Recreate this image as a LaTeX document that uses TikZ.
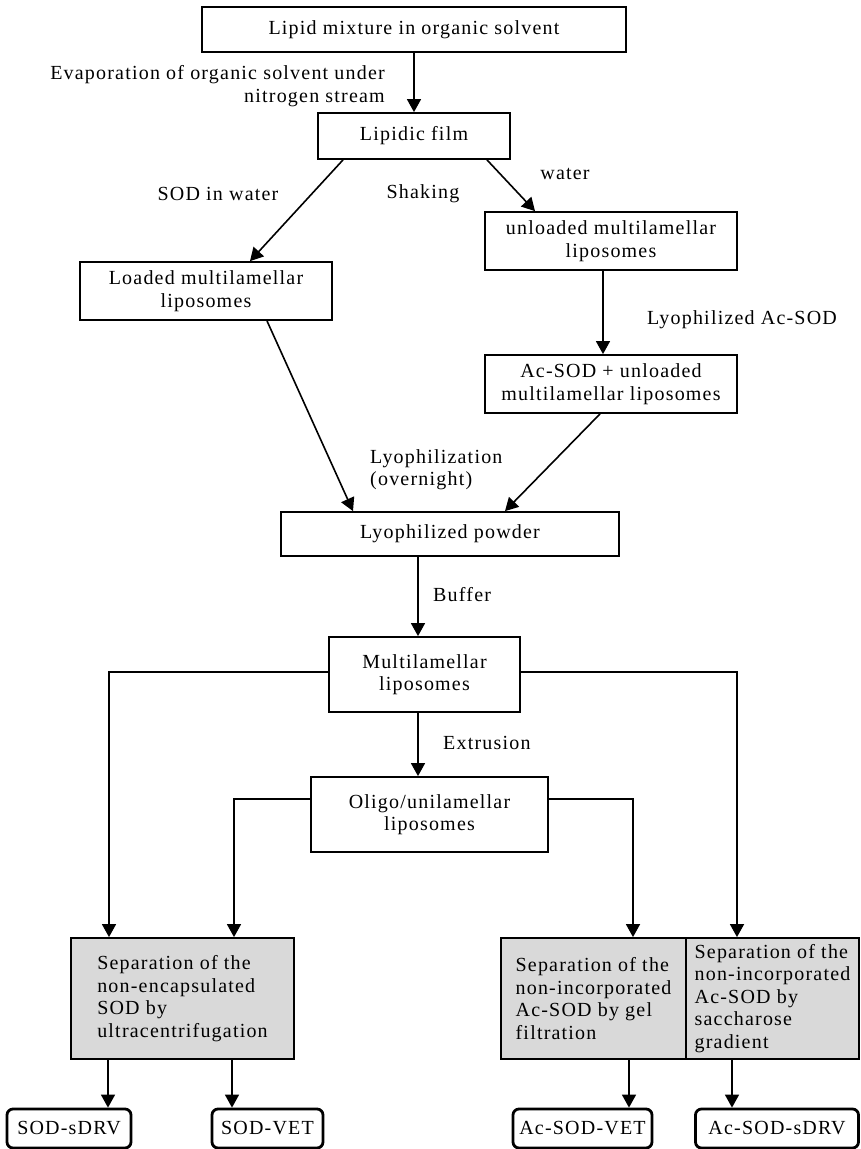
\documentclass[tikz,border=0pt]{standalone}
\usepackage{fontspec}
\setmainfont[LetterSpace=6]{Liberation Serif}
\usetikzlibrary{arrows.meta}

\tikzset{
  procbox/.style={draw, line width=1.8pt, align=center, inner sep=2pt},
  sepbox/.style={draw, line width=1.8pt, fill=gray!30, align=left, inner sep=2pt,
    minimum height=121pt},
  prodbox/.style={draw, line width=2.8pt, rounded corners=6pt, minimum height=39pt,
    inner sep=2pt},
  lbl/.style={inner sep=0pt},
  arr/.style={line width=1.6pt, -{Triangle[length=13pt,width=14pt]}}
}

\begin{document}
\begin{tikzpicture}[x=1pt,y=-1pt,font=\fontsize{20pt}{22.5pt}\selectfont]
\useasboundingbox (0,0) rectangle (861,1149);

% preparation steps
\node[procbox, minimum width=424pt, minimum height=45pt] (mix) at (414,29.5) {Lipid mixture in organic solvent};
\node[procbox, minimum width=192pt, minimum height=46pt] (film) at (414,136) {Lipidic film};
\node[procbox, minimum width=252pt, minimum height=58pt] (loaded) at (206,291) {Loaded multilamellar\\liposomes};
\node[procbox, minimum width=252pt, minimum height=58pt] (unloaded) at (611,241) {unloaded multilamellar\\liposomes};
\node[procbox, minimum width=252pt, minimum height=58pt] (acmix) at (611,384) {Ac-SOD + unloaded\\multilamellar liposomes};
\node[procbox, minimum width=338pt, minimum height=44pt] (powder) at (450,534) {Lyophilized powder};
\node[procbox, minimum width=191pt, minimum height=75pt] (multi) at (424.5,674.5) {Multilamellar\\liposomes};
\node[procbox, minimum width=237pt, minimum height=75pt] (oligo) at (429.5,814.5) {Oligo/unilamellar\\liposomes};

% separation steps
\node[sepbox, minimum width=223pt] (ucsep) at (182.5,998.5) {Separation of the\\non-encapsulated\\SOD by\\ultracentrifugation};
\node[sepbox, minimum width=185pt] (gelsep) at (593.5,998.5) {Separation of the\\non-incorporated\\Ac-SOD by gel\\filtration};
\node[sepbox, minimum width=173pt] (saccsep) at (772.5,998.5) {Separation of the\\non-incorporated\\Ac-SOD by\\saccharose\\gradient};

% final products
\node[prodbox, minimum width=124pt] (sdrv) at (69,1128.5) {SOD-sDRV};
\node[prodbox, minimum width=111pt] (vet) at (267.5,1128.5) {SOD-VET};
\node[prodbox, minimum width=139pt] (acvet) at (582.5,1128.5) {Ac-SOD-VET};
\node[prodbox, minimum width=163pt] (acsdrv) at (777,1128.5) {Ac-SOD-sDRV};

% step labels
\node[lbl, anchor=east, align=right] (evap) at (385,86) {Evaporation of organic solvent under\\nitrogen stream};
\node[lbl] (sodw) at (218,194) {SOD in water};
\node[lbl] (shake) at (423,194) {Shaking};
\node[lbl] (water) at (565,174) {water};
\node[lbl] (lyoac) at (742,320) {Lyophilized Ac-SOD};
\node[lbl, anchor=west, align=left] (lyo) at (370,469.5) {Lyophilization\\(overnight)};
\node[lbl, anchor=west] (buffer) at (433,595) {Buffer};
\node[lbl, anchor=west] (extr) at (443,743) {Extrusion};

% arrows
\draw[arr] (mix) -- (film);
\draw[arr] ([xshift=-71pt]film.south) -- ([xshift=44pt]loaded.north);
\draw[arr] ([xshift=73pt]film.south) -- ([xshift=-76pt]unloaded.north);
\draw[arr] ([xshift=-8pt]unloaded.south) -- ([xshift=-8pt]acmix.north);
\draw[arr] ([xshift=61pt]loaded.south) -- ([xshift=-97pt]powder.north);
\draw[arr] ([xshift=-11pt]acmix.south) -- ([xshift=55pt]powder.north);
\draw[arr] ([xshift=-32pt]powder.south) -- ([xshift=-6.5pt]multi.north);
\draw[arr] ([xshift=-6.5pt]multi.south) -- ([xshift=-11.5pt]oligo.north);

\draw[arr] ([yshift=2.5pt]multi.west) -| ([xshift=-73.5pt]ucsep.north);
\draw[arr] ([yshift=2.5pt]multi.east) -| ([xshift=-35.5pt]saccsep.north);
\draw[arr] ([yshift=15.5pt]oligo.west) -| ([xshift=51.5pt]ucsep.north);
\draw[arr] ([yshift=15.5pt]oligo.east) -| ([xshift=39.5pt]gelsep.north);

\draw[arr] ([xshift=-74.5pt]ucsep.south) -- ([xshift=-74.5pt]ucsep.south |- sdrv.north);
\draw[arr] ([xshift=49.5pt]ucsep.south) -- ([xshift=49.5pt]ucsep.south |- vet.north);
\draw[arr] ([xshift=35.5pt]gelsep.south) -- ([xshift=35.5pt]gelsep.south |- acvet.north);
\draw[arr] ([xshift=-40.5pt]saccsep.south) -- ([xshift=-40.5pt]saccsep.south |- acsdrv.north);
\end{tikzpicture}
\end{document}
